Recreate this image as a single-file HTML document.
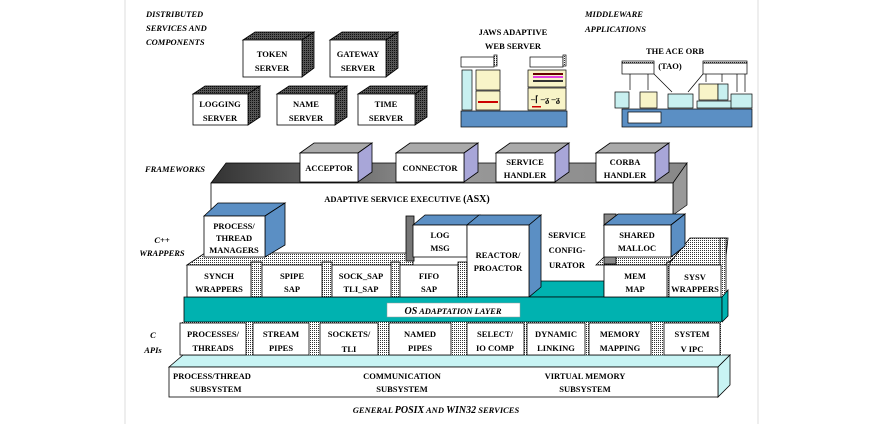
<!DOCTYPE html>
<html><head><meta charset="utf-8"><style>
html,body{margin:0;padding:0;background:#fff;}
svg{display:block;}
text{font-family:"Liberation Serif",serif;font-weight:bold;font-size:8.5px;fill:#000;}
.it{font-style:italic;}
</style></head><body>
<svg width="893" height="424" viewBox="0 0 893 424" xmlns="http://www.w3.org/2000/svg">
<defs>
<pattern id="dot" width="2" height="2" patternUnits="userSpaceOnUse"><rect width="2" height="2" fill="#fff"/><rect width="1" height="1" fill="#333"/></pattern>
<pattern id="dk" width="2" height="2" patternUnits="userSpaceOnUse"><rect width="2" height="2" fill="#555"/><rect width="1" height="1" fill="#111"/></pattern>
<linearGradient id="gb" x1="0" x2="1" y1="0" y2="0"><stop offset="0" stop-color="#333"/><stop offset="0.5" stop-color="#999"/><stop offset="1" stop-color="#888"/></linearGradient>
</defs>
<line x1="125" y1="0" x2="125" y2="424" stroke="#ddd"/>
<line x1="758" y1="0" x2="758" y2="424" stroke="#ddd"/>

<text class="it" x="146" y="17" font-size="7.5">DISTRIBUTED</text>
<text class="it" x="146" y="31" font-size="7.5">SERVICES AND</text>
<text class="it" x="146" y="45" font-size="7.5">COMPONENTS</text>

<g stroke="#000" stroke-width="0.8">
<polygon points="243,40 255,32 314,32 302,40" fill="url(#dk)"/><polygon points="302,40 314,32 314,68 302,77" fill="url(#dk)"/><rect x="243" y="40" width="59" height="37" fill="#fff"/>
<polygon points="330,40 342,32 398,32 386,40" fill="url(#dk)"/><polygon points="386,40 398,32 398,68 386,77" fill="url(#dk)"/><rect x="330" y="40" width="56" height="37" fill="#fff"/>
<polygon points="193,94 205,86 260,86 248,94" fill="url(#dk)"/><polygon points="248,94 260,86 260,117 248,125" fill="url(#dk)"/><rect x="193" y="94" width="55" height="31" fill="#fff"/>
<polygon points="277,94 289,86 347,86 335,94" fill="url(#dk)"/><polygon points="335,94 347,86 347,117 335,125" fill="url(#dk)"/><rect x="277" y="94" width="58" height="31" fill="#fff"/>
<polygon points="358,94 370,86 427,86 415,94" fill="url(#dk)"/><polygon points="415,94 427,86 427,117 415,125" fill="url(#dk)"/><rect x="358" y="94" width="57" height="31" fill="#fff"/>
</g>
<g text-anchor="middle">
<text x="272" y="57">TOKEN</text><text x="272" y="71">SERVER</text>
<text x="358" y="57">GATEWAY</text><text x="358" y="71">SERVER</text>
<text x="220" y="107">LOGGING</text><text x="220" y="121">SERVER</text>
<text x="306" y="107">NAME</text><text x="306" y="121">SERVER</text>
<text x="386" y="107">TIME</text><text x="386" y="121">SERVER</text>
</g>

<text x="513" y="35" text-anchor="middle">JAWS  ADAPTIVE</text>
<text x="513" y="49" text-anchor="middle">WEB  SERVER</text>
<text class="it" x="585" y="17" font-size="7.5">MIDDLEWARE</text>
<text class="it" x="585" y="32" font-size="7.5">APPLICATIONS</text>
<g stroke="#000" stroke-width="0.7">
<rect x="461" y="57" width="33" height="10" fill="#fff"/><rect x="494" y="55" width="3" height="11" fill="url(#dot)"/>
<rect x="530" y="57" width="33" height="10" fill="#fff"/><rect x="563" y="55" width="3" height="11" fill="url(#dot)"/>
<rect x="462" y="70" width="10" height="40" fill="#c8f0f0"/>
<rect x="476" y="70" width="24" height="20" fill="#f8f4c8"/>
<rect x="476" y="91" width="24" height="19" fill="#f8f4c8"/>
<rect x="528" y="70" width="38" height="17" fill="#f8f4c8"/>
<rect x="528" y="88" width="38" height="22" fill="#f8f4c8"/>
<rect x="461" y="111" width="106" height="16" fill="#5b8fc4"/>
</g>
<g fill="#c00"><rect x="478" y="101" width="20" height="2"/><rect x="533" y="76" width="30" height="2" fill="#e040e0"/><rect x="533" y="80" width="30" height="2" fill="#333"/><rect x="533" y="73" width="30" height="2" fill="#600"/><rect x="532" y="106" width="9" height="1.5"/></g>
<text x="531" y="102" font-size="7">–⌈ –ᵹ –ᵹ</text>

<text x="675" y="54" text-anchor="middle">THE  ACE  ORB</text>
<text x="670" y="69" text-anchor="middle">(TAO)</text>
<g stroke="#000" stroke-width="0.7">
<rect x="622" y="63" width="32" height="11" fill="#fff"/><rect x="622" y="61" width="32" height="2" fill="url(#dot)"/>
<rect x="703" y="63" width="44" height="11" fill="#fff"/><rect x="703" y="61" width="44" height="2" fill="url(#dot)"/>
<rect x="615" y="92" width="14" height="16" fill="#c8f0f0"/>
<rect x="640" y="92" width="17" height="16" fill="#f8f4c8"/>
<rect x="668" y="94" width="25" height="14" fill="#c8f0f0"/>
<rect x="699" y="84" width="19" height="16" fill="#f8f4c8"/>
<rect x="718" y="84" width="10" height="16" fill="#c8f0f0"/>
<rect x="697" y="101" width="35" height="7" fill="#c8f0f0"/>
<rect x="731" y="94" width="21" height="14" fill="#c8f0f0"/>
<rect x="622" y="109" width="130" height="18" fill="#5b8fc4"/>
<rect x="628" y="112" width="33" height="11" fill="#fff"/>
<line x1="630" y1="74" x2="630" y2="90"/><line x1="648" y1="74" x2="648" y2="90"/><line x1="654" y1="74" x2="672" y2="92"/><line x1="703" y1="74" x2="688" y2="92"/>
<line x1="706" y1="82" x2="706" y2="74"/><line x1="722" y1="82" x2="722" y2="74"/><line x1="737" y1="74" x2="737" y2="92"/><line x1="745" y1="92" x2="745" y2="74"/>
</g>

<text class="it" x="145" y="172" font-size="7.5">FRAMEWORKS</text>
<polygon points="211,183 226,163 687,163 673,183" fill="url(#gb)" stroke="#000" stroke-width="0.7"/>
<polygon points="673,183 687,163 687,205 673,215" fill="#999" stroke="#000" stroke-width="0.7"/>
<g stroke="#000" stroke-width="0.8">
<polygon points="300,153 314,143 372,143 358,153" fill="#aaa"/><polygon points="358,153 372,143 372,172 358,182" fill="#a8a6d8"/><rect x="300" y="153" width="58" height="29" fill="#fff"/>
<polygon points="396,153 410,143 478,143 464,153" fill="#aaa"/><polygon points="464,153 478,143 478,172 464,182" fill="#a8a6d8"/><rect x="396" y="153" width="68" height="29" fill="#fff"/>
<polygon points="496,153 510,143 569,143 555,153" fill="#aaa"/><polygon points="555,153 569,143 569,172 555,182" fill="#a8a6d8"/><rect x="496" y="153" width="59" height="29" fill="#fff"/>
<polygon points="596,153 610,143 669,143 655,153" fill="#aaa"/><polygon points="655,153 669,143 669,172 655,182" fill="#a8a6d8"/><rect x="596" y="153" width="59" height="29" fill="#fff"/>
</g>
<g text-anchor="middle">
<text x="329" y="171">ACCEPTOR</text><text x="430" y="171">CONNECTOR</text>
<text x="525" y="165">SERVICE</text><text x="525" y="178">HANDLER</text>
<text x="625" y="165">CORBA</text><text x="625" y="178">HANDLER</text>
</g>
<path d="M211,183 H673 V215 H211 Z" fill="#fff" stroke="#000" stroke-width="0.8"/>
<text x="407" y="202" text-anchor="middle">ADAPTIVE  SERVICE  EXECUTIVE  <tspan font-size="10">(ASX)</tspan></text>
<rect x="212" y="208" width="460" height="89" fill="#fff"/>

<text class="it" x="162" y="243" text-anchor="middle" font-size="10">C++</text>
<text class="it" x="162" y="256" text-anchor="middle" font-size="7.5">WRAPPERS</text>

<g stroke="#000" stroke-width="0.8">
<polygon points="187,265 205,253 413,253 413,265" fill="url(#dot)"/>
<polygon points="596,265 604,257 680,253 665,265" fill="url(#dot)"/>
<polygon points="668,265 690,238 728,238 725,265" fill="url(#dot)"/>
<rect x="720" y="238" width="6" height="60" fill="url(#dot)"/>
<polygon points="529,297 541,281 604,281 604,297" fill="#00b2b0"/>
<polygon points="204,216 218,203 285,203 265,216" fill="#5b8fc4"/><polygon points="265,216 285,203 285,245 265,257" fill="#5b8fc4"/><rect x="204" y="216" width="61" height="41" fill="#fff"/>
<rect x="406" y="216" width="8" height="45" fill="#777"/>
<polygon points="413,225 425,215 480,215 467,225" fill="#5b8fc4"/><rect x="413" y="225" width="54" height="32" fill="#fff"/>
<polygon points="467,225 479,215 541,215 529,225" fill="#5b8fc4"/><polygon points="529,225 541,215 541,287 529,297" fill="#5b8fc4"/><rect x="467" y="225" width="62" height="72" fill="#fff"/>
<rect x="604" y="214" width="12" height="50" fill="#888"/>
<polygon points="604,225 618,214 685,214 671,225" fill="#5b8fc4"/><polygon points="671,225 685,214 685,246 671,257" fill="#5b8fc4"/><rect x="604" y="225" width="67" height="32" fill="#fff"/>
</g>
<text x="567" y="238" text-anchor="middle">SERVICE</text><text x="567" y="253" text-anchor="middle">CONFIG-</text><text x="567" y="268" text-anchor="middle">URATOR</text>
<g text-anchor="middle">
<text x="234" y="229">PROCESS/</text><text x="234" y="241">THREAD</text><text x="234" y="253">MANAGERS</text>
<text x="440" y="238">LOG</text><text x="440" y="251">MSG</text>
<text x="498" y="258">REACTOR/</text><text x="498" y="271">PROACTOR</text>
<text x="637" y="238">SHARED</text><text x="637" y="251">MALLOC</text>
</g>

<polygon points="184,297 722,297 722,322 184,322" fill="#00b2b0" stroke="#000" stroke-width="0.8"/>
<polygon points="722,297 728,290 728,316 722,322" fill="#00b2b0" stroke="#000" stroke-width="0.8"/>
<g stroke="#000" stroke-width="0.8" fill="#fff">
<rect x="251" y="262" width="11" height="35" fill="url(#dot)"/><rect x="322" y="262" width="10" height="35" fill="url(#dot)"/><rect x="391" y="262" width="9" height="35" fill="url(#dot)"/><rect x="458" y="262" width="9" height="35" fill="url(#dot)"/><rect x="667" y="262" width="3" height="35" fill="url(#dot)"/>
<rect x="187" y="265" width="64" height="32"/>
<rect x="262" y="265" width="60" height="32"/>
<rect x="332" y="265" width="59" height="32"/>
<rect x="400" y="265" width="58" height="32"/>
<rect x="604" y="265" width="63" height="32"/>
<rect x="669" y="265" width="52" height="32"/>
</g>
<g text-anchor="middle">
<text x="219" y="279">SYNCH</text><text x="219" y="292">WRAPPERS</text>
<text x="292" y="279">SPIPE</text><text x="292" y="292">SAP</text>
<text x="361" y="279">SOCK_SAP</text><text x="361" y="292">TLI_SAP</text>
<text x="429" y="279">FIFO</text><text x="429" y="292">SAP</text>
<text x="635" y="279">MEM</text><text x="635" y="292">MAP</text>
<text x="695" y="280" font-size="11">SYSV</text><text x="695" y="292">WRAPPERS</text>
</g>
<rect x="387" y="303" width="133" height="14" fill="#fff" stroke="#999" stroke-width="0.5"/>
<text class="it" x="453" y="314" text-anchor="middle" font-size="7.5"><tspan font-size="10">OS</tspan> ADAPTATION LAYER</text>

<text class="it" x="153" y="338" text-anchor="middle" font-size="10">C</text>
<text class="it" x="153" y="353" text-anchor="middle" font-size="10">APIs</text>
<polygon points="169,367 183,355 730,355 718,367" fill="#c8f4f4" stroke="#000" stroke-width="0.8"/>
<polygon points="718,367 730,355 730,385 718,397" fill="#c8f4f4" stroke="#000" stroke-width="0.8"/>
<rect x="169" y="367" width="549" height="30" fill="#fff" stroke="#000" stroke-width="0.8"/>
<g stroke="#000" stroke-width="0.8" fill="#fff">
<rect x="182" y="322" width="540" height="33" fill="url(#dot)" stroke="none"/>
<rect x="180" y="323" width="66" height="32"/>
<rect x="253" y="323" width="56" height="32"/>
<rect x="320" y="323" width="58" height="32"/>
<rect x="389" y="323" width="62" height="32"/>
<rect x="467" y="323" width="57" height="32"/>
<rect x="527" y="323" width="58" height="32"/>
<rect x="589" y="323" width="62" height="32"/>
<rect x="664" y="323" width="56" height="32"/>
</g>
<g text-anchor="middle">
<text x="213" y="337">PROCESSES/</text><text x="213" y="351">THREADS</text>
<text x="281" y="337">STREAM</text><text x="281" y="351">PIPES</text>
<text x="349" y="337">SOCKETS/</text><text x="349" y="352" font-size="11">TLI</text>
<text x="420" y="337">NAMED</text><text x="420" y="351">PIPES</text>
<text x="495" y="337">SELECT/</text><text x="495" y="351">IO  COMP</text>
<text x="556" y="337">DYNAMIC</text><text x="556" y="351">LINKING</text>
<text x="620" y="337">MEMORY</text><text x="620" y="351">MAPPING</text>
<text x="692" y="337">SYSTEM</text><text x="692" y="352" font-size="11">V  IPC</text>
</g>
<text x="173" y="379">PROCESS/THREAD</text><text x="190" y="392">SUBSYSTEM</text>
<text x="402" y="379" text-anchor="middle">COMMUNICATION</text><text x="402" y="392" text-anchor="middle">SUBSYSTEM</text>
<text x="585" y="379" text-anchor="middle">VIRTUAL  MEMORY</text><text x="585" y="392" text-anchor="middle">SUBSYSTEM</text>
<text class="it" x="436" y="413" text-anchor="middle" font-size="7">GENERAL <tspan font-size="10">POSIX</tspan> AND <tspan font-size="10">WIN32</tspan> SERVICES</text>
</svg>
</body></html>
